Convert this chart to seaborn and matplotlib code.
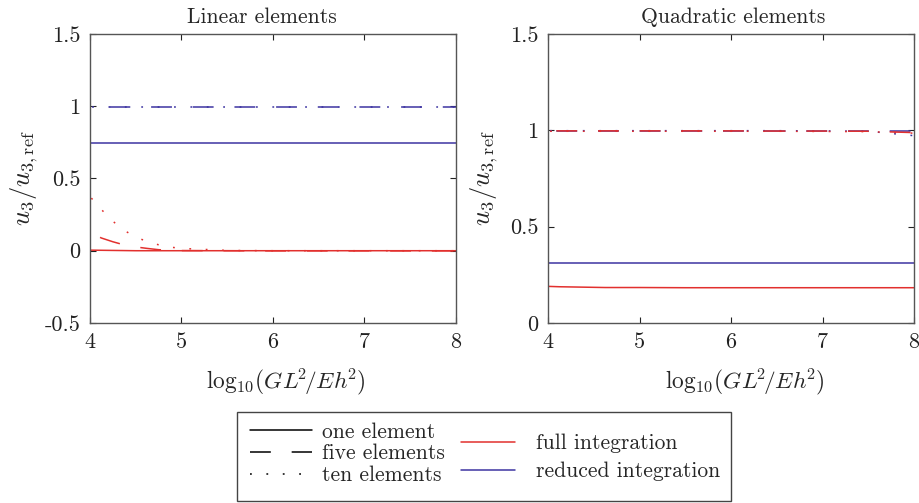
import numpy as np
import pandas as pd
import matplotlib
matplotlib.use("Agg")
import matplotlib.pyplot as plt
from matplotlib.lines import Line2D
from matplotlib.patches import Rectangle
import seaborn as sns

# ---------------- data ----------------
x_vals = [4.0, 4.125, 4.25, 4.375, 4.5, 4.625, 4.75, 4.875, 5.0, 5.5, 6.0, 6.5, 7.0, 7.5, 8.0]

# Linear elements
lin_full_one  = [0.004, 0.003, 0.002, 0.001, 0.0, 0.0, 0.0, 0.0, 0.0, 0.0, 0.0, 0.0, 0.0, 0.0, 0.0]
lin_full_five = [0.125, 0.088, 0.062, 0.040, 0.026, 0.016, 0.007, 0.003, 0.001, 0.0, -0.001, -0.001, -0.001, -0.001, -0.001]
lin_full_ten  = [0.375, 0.285, 0.204, 0.140, 0.095, 0.063, 0.041, 0.025, 0.016, 0.002, 0.0, 0.0, 0.0, 0.0, 0.0]
lin_red_one   = [0.745] * 15
lin_red_five  = [0.995] * 15
lin_red_ten   = [0.995] * 15

# Quadratic elements
quad_full_one  = [0.190, 0.188, 0.187, 0.186, 0.185, 0.184, 0.184, 0.184, 0.184, 0.183, 0.183, 0.183, 0.183, 0.183, 0.183]
quad_full_five = [0.997, 0.997, 0.997, 0.997, 0.997, 0.997, 0.997, 0.997, 0.997, 0.997, 0.997, 0.996, 0.996, 0.995, 0.988]
quad_full_ten  = [0.995, 0.995, 0.995, 0.995, 0.995, 0.995, 0.995, 0.995, 0.995, 0.995, 0.995, 0.995, 0.994, 0.993, 0.985]
quad_red_one   = [0.310] * 15
quad_red_five  = [0.998] * 15
quad_red_ten   = [0.998, 0.998, 0.998, 0.998, 0.998, 0.998, 0.998, 0.998, 0.998, 0.998, 0.998, 0.998, 0.997, 0.995, 0.972]

titles = ["Linear elements", "Quadratic elements"]
elements = ["one element", "five elements", "ten elements"]
integrations = ["full integration", "reduced integration"]
x_ticks = [4, 5, 6, 7, 8]
x_ticklabels = ["4", "5", "6", "7", "8"]
lin_yticks = [-0.5, 0, 0.5, 1, 1.5]
lin_yticklabels = ["-0.5", "0", "0.5", "1", "1.5"]
quad_yticks = [0, 0.5, 1, 1.5]
quad_yticklabels = ["0", "0.5", "1", "1.5"]
x_label = r"$\mathrm{log}_{10}(GL^{\!2}\!/Eh^{\!2})$"
y_label = r"$u_3/u_{3,\mathrm{ref}}$"

panels = {
    "Linear elements": {
        ("full integration", "one element"): lin_full_one,
        ("full integration", "five elements"): lin_full_five,
        ("full integration", "ten elements"): lin_full_ten,
        ("reduced integration", "one element"): lin_red_one,
        ("reduced integration", "five elements"): lin_red_five,
        ("reduced integration", "ten elements"): lin_red_ten,
    },
    "Quadratic elements": {
        ("reduced integration", "one element"): quad_red_one,
        ("reduced integration", "five elements"): quad_red_five,
        ("reduced integration", "ten elements"): quad_red_ten,
        ("full integration", "one element"): quad_full_one,
        ("full integration", "five elements"): quad_full_five,
        ("full integration", "ten elements"): quad_full_ten,
    },
}

rows = []
for panel, series in panels.items():
    for (integ, elem), ys in series.items():
        for xv, yv in zip(x_vals, ys):
            rows.append({"panel": panel, "integration": integ, "elements": elem, "x": xv, "y": yv})
df = pd.DataFrame(rows)

# ---------------- style ----------------
sns.set_theme(style="ticks")
plt.rcParams["font.family"] = ["cmr10", "DejaVu Serif"]
plt.rcParams["mathtext.fontset"] = "cm"
plt.rcParams["axes.unicode_minus"] = False
plt.rcParams["axes.formatter.use_mathtext"] = True
plt.rcParams["lines.scale_dashes"] = False

RED = "#e2302e"
BLUE = "#3d34a2"
palette = {"full integration": RED, "reduced integration": BLUE}
DASH = (15, 15)
DOT = (1.3, 10.5)
dash_offset = {
    ("Linear elements", "full integration"): 22,
    ("Linear elements", "reduced integration"): 16,
    ("Quadratic elements", "full integration"): 24,
    ("Quadratic elements", "reduced integration"): 24,
}
DOT_OFFSET = 10.3

layout = {
    "Linear elements": dict(rect=[0.0979, 0.3579, 0.3983, 0.5746], title_x=0.47,
                            xlab=(0.535, -0.148), ylab=(-0.137, 0.5)),
    "Quadratic elements": dict(rect=[0.5963, 0.3579, 0.3983, 0.5746], title_x=0.507,
                               xlab=(0.538, -0.148), ylab=(-0.131, 0.5)),
}

fig = plt.figure(figsize=(9.19, 5.03), dpi=100)

for panel, cfg in layout.items():
    ax = fig.add_axes(cfg["rect"])
    sub = df[df["panel"] == panel]
    for (integ, elem) in panels[panel].keys():
        s = sub[(sub["integration"] == integ) & (sub["elements"] == elem)]
        if elem == "one element":
            ls = "-"
        elif elem == "five elements":
            ls = (dash_offset[(panel, integ)], DASH)
        else:
            ls = (DOT_OFFSET, DOT)
        sns.lineplot(data=s, x="x", y="y", ax=ax, color=palette[integ],
                     linestyle=ls, linewidth=1.1, estimator=None, sort=False,
                     legend=False, dash_capstyle="butt")

    ax.set_xlim(4, 8)
    ax.set_xticks(x_ticks)
    ax.set_xticklabels(x_ticklabels)
    if panel == "Linear elements":
        ax.set_ylim(-0.5, 1.5)
        ax.set_yticks(lin_yticks)
        ax.set_yticklabels(lin_yticklabels)
    else:
        ax.set_ylim(0, 1.5)
        ax.set_yticks(quad_yticks)
        ax.set_yticklabels(quad_yticklabels)
    ax.set_title(panel, fontsize=15.5, pad=8, x=cfg["title_x"])
    ax.set_xlabel(x_label, fontsize=16.8)
    ax.xaxis.set_label_coords(*cfg["xlab"])
    ax.set_ylabel(y_label, fontsize=19)
    ax.yaxis.set_label_coords(*cfg["ylab"])
    ax.tick_params(direction="in", length=4, width=0.8, top=True, right=True,
                   labelsize=16, pad=7, colors="#222222")
    for sp in ax.spines.values():
        sp.set_visible(True)
        sp.set_color("#555555")
        sp.set_linewidth(1.0)

# ---------------- legend ----------------
box = Rectangle((0.2579, 0.004), 0.5375, 0.1765, transform=fig.transFigure,
                fill=False, edgecolor="#444444", linewidth=1.0)
fig.patches.append(box)

h_elem = [
    Line2D([], [], color="black", linewidth=1.1, linestyle="-"),
    Line2D([], [], color="black", linewidth=1.1, linestyle=(0, DASH), dash_capstyle="butt"),
    Line2D([], [], color="black", linewidth=1.1, linestyle=(0, DOT), dash_capstyle="butt"),
]
h_int = [
    Line2D([], [], color=RED, linewidth=1.1),
    Line2D([], [], color=BLUE, linewidth=1.1),
]
leg1 = fig.legend(h_elem, elements, loc="center left",
                  bbox_to_anchor=(0.272, 0.098), frameon=False, fontsize=15.5,
                  handlelength=2.9, handletextpad=0.45, labelspacing=0.1,
                  borderpad=0, borderaxespad=0)
leg2 = fig.legend(h_int, integrations, loc="center left",
                  bbox_to_anchor=(0.5016, 0.0905), frameon=False, fontsize=15.5,
                  handlelength=2.5, handletextpad=1.0, labelspacing=0.4,
                  borderpad=0, borderaxespad=0)

fig.savefig("out.png", dpi=100)
